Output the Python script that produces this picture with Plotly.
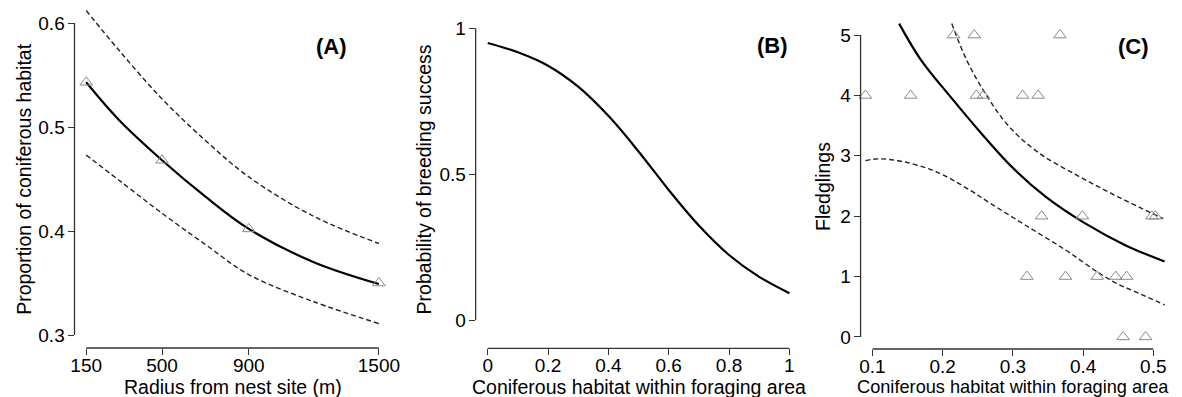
import plotly.graph_objects as go

W, H = 1182, 397
OFF = 8  # page body margin in the browser

# ---------------- Data ----------------
# Panel A
a_radius = [150, 500, 900, 1500]
a_obs = [0.543, 0.468, 0.402, 0.350]
a_fit_x = [150, 300, 500, 700, 900, 1200, 1500]
a_fit = [0.543, 0.507, 0.468, 0.433, 0.402, 0.370, 0.349]
a_upper = [0.612, 0.574, 0.527, 0.487, 0.452, 0.414, 0.388]
a_lower = [0.473, 0.449, 0.417, 0.387, 0.358, 0.332, 0.311]
a_xticks = [150, 500, 900, 1500]
a_yticks = [0.3, 0.4, 0.5, 0.6]

# Panel B
b_x = [0.0, 0.1, 0.2, 0.3, 0.4, 0.5, 0.6, 0.7, 0.8, 0.9, 1.0]
b_prob = [0.950, 0.918, 0.872, 0.800, 0.700, 0.578, 0.446, 0.324, 0.223, 0.148, 0.092]
b_xticks = [0, 0.2, 0.4, 0.6, 0.8, 1]
b_xlabels = ["0", "0.2", "0.4", "0.6", "0.8", "1"]
b_yticks = [0, 0.5, 1]
b_ylabels = ["0", "0.5", "1"]

# Panel C
c_pts_x = [0.2155, 0.245, 0.367, 0.090, 0.1545, 0.248, 0.258, 0.314, 0.336,
           0.341, 0.399, 0.498, 0.503, 0.320, 0.375, 0.420, 0.4465, 0.462,
           0.457, 0.489]
c_pts_y = [5, 5, 5, 4, 4, 4, 4, 4, 4, 2, 2, 2, 2, 1, 1, 1, 1, 1, 0, 0]
c_fit_x = [0.138, 0.169, 0.211, 0.253, 0.300, 0.347, 0.403, 0.460, 0.516]
c_fit = [5.19, 4.59, 3.98, 3.40, 2.80, 2.32, 1.88, 1.52, 1.25]
c_upper_x = [0.213, 0.234, 0.262, 0.295, 0.338, 0.394, 0.450, 0.514]
c_upper = [5.19, 4.59, 4.01, 3.48, 3.04, 2.66, 2.32, 1.96]
c_lower_x = [0.090, 0.108, 0.145, 0.192, 0.239, 0.267, 0.318, 0.375, 0.420,
             0.447, 0.474, 0.516]
c_lower = [2.92, 2.95, 2.90, 2.73, 2.43, 2.22, 1.85, 1.44, 1.08, 0.89, 0.75, 0.53]
c_xticks = [0.1, 0.2, 0.3, 0.4, 0.5]
c_xlabels = ["0.1", "0.2", "0.3", "0.4", "0.5"]
c_yticks = [0, 1, 2, 3, 4, 5]

# ---------------- Styles ----------------
FONT = "Liberation Sans, Arial, Helvetica, sans-serif"
AX = "#333333"
PT = "#8a8a8a"
solid = dict(color="black", width=2.2)
dashed = dict(color="#222222", width=1.4, dash="5px,3px")
tri = dict(symbol="triangle-up-open", size=11, color=PT, line=dict(color=PT, width=1))

def px(x):
    return (x - OFF) / W

def py(y):
    return 1 - (y - OFF) / H

fig = go.Figure()

# Panel A
fig.add_trace(go.Scatter(x=a_fit_x, y=a_upper, mode="lines", line=dashed, line_shape="spline", xaxis="x", yaxis="y"))
fig.add_trace(go.Scatter(x=a_fit_x, y=a_lower, mode="lines", line=dashed, line_shape="spline", xaxis="x", yaxis="y"))
fig.add_trace(go.Scatter(x=a_fit_x, y=a_fit, mode="lines", line=solid, line_shape="spline", xaxis="x", yaxis="y"))
fig.add_trace(go.Scatter(x=a_radius, y=a_obs, mode="markers", marker=tri, xaxis="x", yaxis="y", cliponaxis=False))

# Panel B
fig.add_trace(go.Scatter(x=b_x, y=b_prob, mode="lines", line=solid, line_shape="spline", xaxis="x2", yaxis="y2"))

# Panel C
fig.add_trace(go.Scatter(x=c_upper_x, y=c_upper, mode="lines", line=dashed, line_shape="spline", xaxis="x3", yaxis="y3"))
fig.add_trace(go.Scatter(x=c_lower_x, y=c_lower, mode="lines", line=dashed, line_shape="spline", xaxis="x3", yaxis="y3"))
fig.add_trace(go.Scatter(x=c_fit_x, y=c_fit, mode="lines", line=solid, line_shape="spline", xaxis="x3", yaxis="y3"))
fig.add_trace(go.Scatter(x=c_pts_x, y=c_pts_y, mode="markers", marker=tri, xaxis="x3", yaxis="y3", cliponaxis=False))

# Axes
common = dict(showgrid=False, zeroline=False, showline=False, ticks="outside",
              ticklen=6, tickwidth=1.3, tickcolor=AX,
              tickfont=dict(family=FONT, size=19, color="black"), fixedrange=True)
xcommon = dict(ticklabelstandoff=-6, **common)
ycommon = dict(ticklabelstandoff=-1, **common)

A_x0, A_x1 = 71.2, 390.8
A_y0, A_y1 = 348, 10
B_x0, B_x1 = 476.8, 806.2
B_y0, B_y1 = 348.3, 10
C_x0, C_x1 = 866, 1182
C_y0, C_y1 = 349, 23

fig.update_layout(
    xaxis=dict(domain=[px(A_x0), px(A_x1)], range=[96, 1554], tickvals=a_xticks, anchor="y", **xcommon),
    yaxis=dict(domain=[py(A_y0), py(A_y1)], range=[0.2875, 0.6125], tickvals=a_yticks,
               ticktext=["0.3", "0.4", "0.5", "0.6"], anchor="x", **ycommon),
    xaxis2=dict(domain=[px(B_x0), px(B_x1)], range=[-0.04, 1.04], tickvals=b_xticks,
                ticktext=b_xlabels, anchor="y2", **xcommon),
    yaxis2=dict(domain=[py(B_y0), py(B_y1)], range=[-0.097, 1.063], tickvals=b_yticks,
                ticktext=b_ylabels, anchor="x2", **ycommon),
    xaxis3=dict(domain=[px(C_x0), px(C_x1)], range=[0.0831, 0.0831 + (C_x1 - C_x0) / 710],
                tickvals=c_xticks, ticktext=c_xlabels, anchor="y3", **xcommon),
    yaxis3=dict(domain=[py(C_y0), py(C_y1)], range=[-0.2, 5.2], tickvals=c_yticks, anchor="x3", **ycommon),
)

# R-style detached axis lines spanning only the tick range
line_style = dict(color=AX, width=1.3)
shapes = [
    dict(type="line", xref="paper", yref="y", x0=px(A_x0), x1=px(A_x0), y0=a_yticks[0], y1=a_yticks[-1], line=line_style),
    dict(type="line", xref="x", yref="paper", x0=a_xticks[0], x1=a_xticks[-1], y0=py(A_y0), y1=py(A_y0), line=line_style),
    dict(type="line", xref="paper", yref="y2", x0=px(B_x0), x1=px(B_x0), y0=b_yticks[0], y1=b_yticks[-1], line=line_style),
    dict(type="line", xref="x2", yref="paper", x0=b_xticks[0], x1=b_xticks[-1], y0=py(B_y0), y1=py(B_y0), line=line_style),
    dict(type="line", xref="paper", yref="y3", x0=px(C_x0), x1=px(C_x0), y0=c_yticks[0], y1=c_yticks[-1], line=line_style),
    dict(type="line", xref="x3", yref="paper", x0=c_xticks[0], x1=c_xticks[-1], y0=py(C_y0), y1=py(C_y0), line=line_style),
]

tfont = dict(family=FONT, size=19.5, color="black")
tfont_c = dict(family=FONT, size=18.2, color="black")
lfont = dict(family=FONT, size=22, color="black")
def ann(text, x, y, font, angle=0):
    return dict(text=text, x=px(x), y=py(y), xref="paper", yref="paper", showarrow=False,
                xanchor="center", yanchor="middle", textangle=angle, font=font)

annotations = [
    ann("Proportion of coniferous habitat", 20, 179, tfont, -90),
    ann("Radius from nest site (m)", 231, 387, tfont),
    ann("Probability of breeding success", 425, 179, tfont, -90),
    ann("Coniferous habitat within foraging area", 642, 387, tfont),
    ann("Fledglings", 828, 186, tfont, -90),
    ann("Coniferous habitat within foraging area", 1020, 387, tfont_c),
    ann("<b>(A)</b>", 331, 46, lfont),
    ann("<b>(B)</b>", 777, 45, lfont),
    ann("<b>(C)</b>", 1142, 46, lfont),
]

fig.update_layout(
    width=W, height=H, margin=dict(l=0, r=0, t=0, b=0),
    paper_bgcolor="white", plot_bgcolor="white", showlegend=False,
    shapes=shapes, annotations=annotations,
    font=dict(family=FONT, color="black"),
)

fig.write_html("out.html")
